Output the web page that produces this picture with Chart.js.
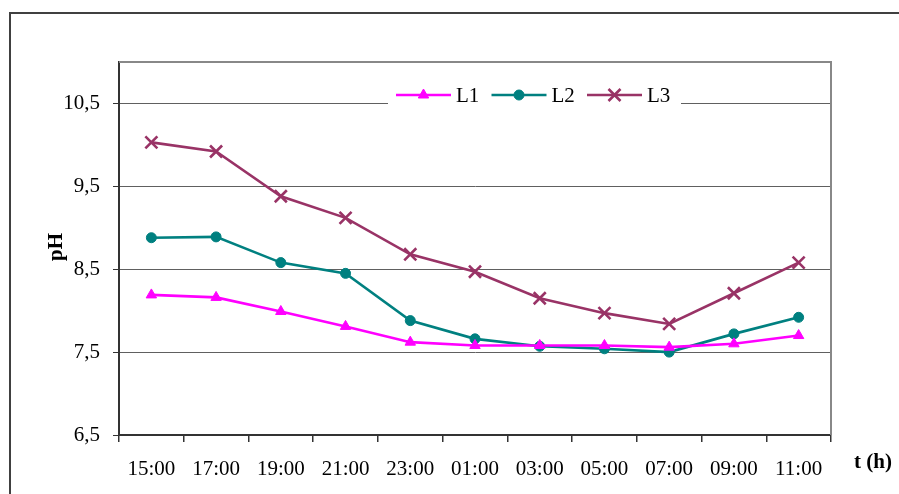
<!DOCTYPE html>
<html>
<head>
<meta charset="utf-8">
<script src="https://cdn.jsdelivr.net/npm/chart.js@4.4.1/dist/chart.umd.min.js"></script>
<style>
html, body { margin: 0; padding: 0; background: #fff; }
#chartContainer { display: block; }
</style>
</head>
<body>
<canvas id="chartContainer" width="899" height="494"></canvas>
<script>
// 时间刻度
var hours = ['15:00', '17:00', '19:00', '21:00', '23:00', '01:00', '03:00', '05:00', '07:00', '09:00', '11:00'];
// pH 值
var l1Values = [8.19, 8.16, 7.99, 7.81, 7.62, 7.58, 7.58, 7.58, 7.56, 7.60, 7.70];
var l2Values = [8.88, 8.89, 8.58, 8.45, 7.88, 7.66, 7.57, 7.54, 7.50, 7.72, 7.92];
var l3Values = [10.03, 9.92, 9.38, 9.12, 8.68, 8.47, 8.15, 7.97, 7.84, 8.21, 8.58];
var yTicks = [6.5, 7.5, 8.5, 9.5, 10.5];

var serif = '"Liberation Serif", "Times New Roman", serif';

function drawMarker(ctx, style, x, y, r, color, bw) {
    ctx.save();
    ctx.fillStyle = color;
    ctx.strokeStyle = color;
    ctx.lineWidth = bw;
    ctx.beginPath();
    if (style === 'triangle') {
        var h = r * 0.866;
        ctx.moveTo(x, y - r);
        ctx.lineTo(x + h, y + r * 0.5);
        ctx.lineTo(x - h, y + r * 0.5);
        ctx.closePath();
        ctx.fill();
        ctx.stroke();
    } else if (style === 'circle') {
        ctx.arc(x, y, r, 0, Math.PI * 2);
        ctx.fill();
        ctx.stroke();
    } else {
        var d = r * 0.707;
        ctx.moveTo(x - d, y - d); ctx.lineTo(x + d, y + d);
        ctx.moveTo(x + d, y - d); ctx.lineTo(x - d, y + d);
        ctx.stroke();
    }
    ctx.restore();
}

// 外框、绘图区边框、坐标轴标题和图例
var decorPlugin = {
    id: 'decor',
    beforeDraw: function (chart) {
        var ctx = chart.ctx;
        ctx.save();
        ctx.strokeStyle = '#404040';
        ctx.lineWidth = 2;
        ctx.strokeRect(10, 13, 1000, 1000);
        ctx.restore();
    },
    afterDraw: function (chart) {
        var ctx = chart.ctx;
        var a = chart.chartArea;
        ctx.save();
        // 上边和右边
        ctx.strokeStyle = '#888888';
        ctx.lineWidth = 2;
        ctx.beginPath();
        ctx.moveTo(a.left, a.top);
        ctx.lineTo(a.right, a.top);
        ctx.lineTo(a.right, a.bottom);
        ctx.stroke();

        // 轴标题
        ctx.fillStyle = '#000';
        ctx.font = 'bold 21px ' + serif;
        ctx.textAlign = 'center';
        ctx.textBaseline = 'middle';
        ctx.fillText('t (h)', 873, 463);
        ctx.translate(57, 247);
        ctx.rotate(-Math.PI / 2);
        ctx.fillText('pH', 0, 0);
        ctx.restore();

        // 图例
        ctx.save();
        ctx.fillStyle = '#fff';
        ctx.fillRect(388, 84, 293, 24);
        ctx.font = '21px ' + serif;
        ctx.textBaseline = 'middle';
        ctx.textAlign = 'left';
        var x = 396, y = 95;
        chart.data.datasets.forEach(function (ds) {
            ctx.strokeStyle = ds.borderColor;
            ctx.lineWidth = ds.borderWidth;
            ctx.beginPath();
            ctx.moveTo(x, y);
            ctx.lineTo(x + 55, y);
            ctx.stroke();
            drawMarker(ctx, ds.pointStyle, x + 27.5, y, ds.pointRadius, ds.borderColor, ds.pointBorderWidth);
            ctx.fillStyle = '#000';
            ctx.fillText(ds.label, x + 60, y + 1);
            x += 95.5;
        });
        ctx.restore();
    }
};

var ctx = document.getElementById('chartContainer').getContext('2d');
var myChart = new Chart(ctx, {
    type: 'line',
    data: {
        labels: hours,
        datasets: [{
            label: 'L1',
            data: l1Values,
            borderColor: '#ff00ff',
            backgroundColor: '#ff00ff',
            borderWidth: 2.6,
            pointStyle: 'triangle',
            pointRadius: 6,
            pointBorderWidth: 1,
            tension: 0
        }, {
            label: 'L2',
            data: l2Values,
            borderColor: '#008080',
            backgroundColor: '#008080',
            borderWidth: 2.6,
            pointStyle: 'circle',
            pointRadius: 5,
            pointBorderWidth: 1,
            tension: 0
        }, {
            label: 'L3',
            data: l3Values,
            borderColor: '#993366',
            backgroundColor: '#993366',
            borderWidth: 2.6,
            pointStyle: 'crossRot',
            pointRadius: 8.5,
            pointBorderWidth: 2.6,
            tension: 0
        }]
    },
    options: {
        responsive: false,
        animation: false,
        devicePixelRatio: 1,
        layout: { padding: { left: 0, top: 62, right: 68, bottom: 0 } },
        plugins: {
            legend: { display: false },
            tooltip: { enabled: false }
        },
        scales: {
            x: {
                offset: true,
                grid: {
                    offset: true,
                    drawOnChartArea: false,
                    tickLength: 7,
                    tickColor: '#333',
                    lineWidth: 1.5
                },
                border: { color: '#333', width: 2 },
                ticks: {
                    color: '#000',
                    font: { family: serif, size: 21 },
                    padding: 15,
                    maxRotation: 0,
                    autoSkip: false
                },
                afterFit: function (scale) { scale.height = 59; }
            },
            y: {
                min: 6.5,
                max: 11,
                afterBuildTicks: function (scale) {
                    scale.ticks = yTicks.map(function (v) { return { value: v }; });
                },
                grid: {
                    color: '#606060',
                    lineWidth: 1,
                    tickLength: 6,
                    tickColor: '#333'
                },
                border: { color: '#333', width: 2 },
                ticks: {
                    color: '#000',
                    font: { family: serif, size: 21 },
                    padding: 13,
                    callback: function (v) { return v.toFixed(1).replace('.', ','); }
                },
                afterFit: function (scale) { scale.width = 119; }
            }
        }
    },
    plugins: [decorPlugin]
});
</script>
</body>
</html>
